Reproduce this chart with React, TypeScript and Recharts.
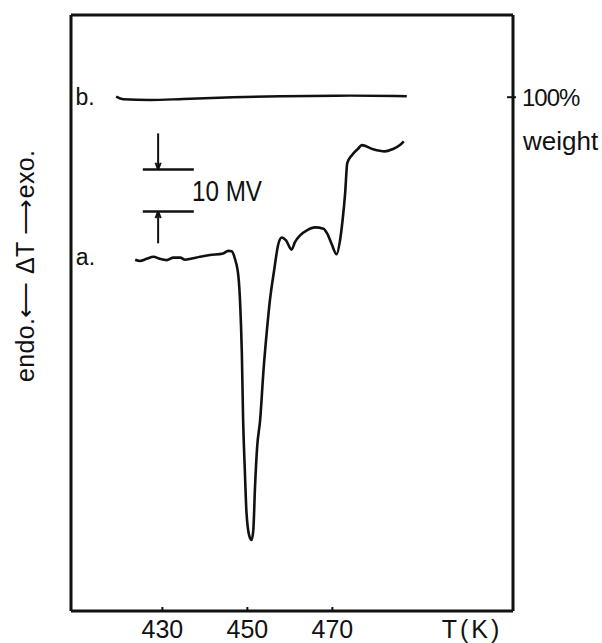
import { Label, Line, LineChart, ReferenceDot, ReferenceLine, XAxis, YAxis } from "recharts";

// curve a: DTA signal (mV scale)
const dtaTemps = [
  423.6, 424.7, 426.3, 427.9, 429.4, 431.0, 432.6, 434.2, 435.3, 436.9, 438.9, 441.2, 444.3, 445.5,
  446.3, 447.1, 447.9, 448.3, 448.7, 449.0, 449.4, 449.8, 450.5, 451.0, 451.4, 451.8, 452.3, 453.0,
  453.8, 454.6, 455.3, 456.3, 457.3, 458.1, 459.1, 460.4, 461.2, 462.4, 464.0, 465.9, 467.9, 468.8,
  469.8, 471.0, 471.8, 472.4, 473.0, 473.5, 474.6, 476.1, 476.9, 479.6, 482.3, 484.1, 485.9, 486.8,
];
const dtaValues = [
  83.7, 83.4, 83.9, 84.4, 83.9, 83.6, 84.2, 84.2, 83.7, 84.0, 84.4, 84.8, 85.2, 85.8,
  85.7, 83.8, 79.6, 73.3, 61.4, 45.5, 33.6, 23.3, 17.7, 16.9, 19.3, 29.6, 39.1, 45.5,
  57.4, 66.9, 74.0, 81.2, 87.5, 89.0, 88.3, 86.1, 87.9, 89.5, 90.7, 91.4, 91.1, 89.9,
  87.5, 85.0, 88.3, 93.1, 99.5, 106.7, 108.6, 110.2, 111.0, 110.0, 109.5, 110.0, 111.0, 111.9,
];

// curve b: weight (%)
const tgTemps = [419.1, 420.8, 427.1, 434.9, 446.6, 458.4, 474.1, 487.5];
const tgValues = [100.1, 99.6, 99.45, 99.65, 100.0, 100.2, 100.3, 100.2];

const tempTicks = [430, 450, 470];
const weightTicks = [100];

const dta = dtaTemps.map((t, i) => ({ t, v: dtaValues[i] }));
const tg = tgTemps.map((t, i) => ({ t, w: tgValues[i] }));

const INK = "#111";
const FONT = "'Liberation Sans', Arial, sans-serif";

// 10 mV scale bar
const barLo = 95.2;
const barHi = 105.2;
const barT0 = 425.4;
const barT1 = 437.4;
const arrowT = 429;

function TempTick({ x, y, payload }: any) {
  return (
    <g>
      <line x1={x} x2={x} y1={y - 4} y2={y} stroke={INK} strokeWidth={2} />
      <text x={x} y={y + 9} dy="0.71em" textAnchor="middle" fontSize={25} fill={INK} fontFamily={FONT}>
        {payload.value}
      </text>
    </g>
  );
}

function WeightTick({ x, y, payload }: any) {
  return (
    <g>
      <line x1={x - 6} x2={x + 3} y1={y} y2={y} stroke={INK} strokeWidth={2} />
      <text x={x + 9} y={y} dominantBaseline="central" fontSize={24} fill={INK} fontFamily={FONT} letterSpacing={-1}>
        {payload.value}%
      </text>
    </g>
  );
}

const textAt =
  (text: string, size: number, extra: any = {}) =>
  ({ viewBox }: any) => {
    const cx = viewBox.x + viewBox.width / 2;
    const cy = viewBox.y + viewBox.height / 2;
    return (
      <text x={cx} y={cy} textAnchor="middle" dominantBaseline="central" fontSize={size} fill={INK} fontFamily={FONT} {...extra}>
        {text}
      </text>
    );
  };

function DeltaTLabel({ viewBox }: any) {
  const cx = viewBox.x + viewBox.width - 46;
  const cy = 266;
  return (
    <text
      transform={`rotate(-90 ${cx} ${cy})`}
      x={cx}
      y={cy}
      textAnchor="middle"
      dominantBaseline="central"
      fontSize={25}
      fill={INK}
      fontFamily={FONT}
      textLength={232}
      lengthAdjust="spacing"
    >
      endo.⟵ ΔT ⟶exo.
    </text>
  );
}

function WeightLabel({ viewBox }: any) {
  return (
    <text x={viewBox.x + 10} y={150} fontSize={26} fill={INK} fontFamily={FONT}>
      weight
    </text>
  );
}

function TempLabel({ viewBox }: any) {
  return (
    <text x={viewBox.x + viewBox.width - 41} y={viewBox.y + 9} dy="0.71em" textAnchor="middle" fontSize={25} fill={INK} fontFamily={FONT} letterSpacing={3}>
      T(K)
    </text>
  );
}

const seg = (t0: number, v0: number, t1: number, v1: number, w = 2) => (
  <ReferenceLine
    key={`${t0}-${v0}-${t1}-${v1}`}
    yAxisId="dta"
    segment={[{ x: t0, y: v0 }, { x: t1, y: v1 }]}
    stroke={INK}
    strokeWidth={w}
  />
);

export default function App() {
  return (
    <div style={{ position: "absolute", left: 0, top: 0, background: "#fff" }}>
      <LineChart width={602} height={643} margin={{ top: 14, right: 88, bottom: 31, left: 70 }}>
        <XAxis
          dataKey="t"
          type="number"
          domain={[408.5, 512.5]}
          ticks={tempTicks}
          allowDataOverflow
          height={1}
          tickSize={0}
          tickMargin={0}
          tickLine={false}
          tick={<TempTick />}
          axisLine={{ stroke: INK, strokeWidth: 3 }}
        >
          <Label content={<TempLabel />} />
        </XAxis>
        <XAxis
          xAxisId="top"
          orientation="top"
          type="number"
          domain={[408.5, 512.5]}
          height={1}
          tick={false}
          tickLine={false}
          axisLine={{ stroke: INK, strokeWidth: 3 }}
        />
        <YAxis
          yAxisId="dta"
          type="number"
          domain={[0, 142]}
          width={1}
          tick={false}
          tickLine={false}
          axisLine={{ stroke: INK, strokeWidth: 3 }}
        >
          <Label content={<DeltaTLabel />} />
        </YAxis>
        <YAxis
          yAxisId="w"
          orientation="right"
          type="number"
          domain={[0, 116]}
          ticks={weightTicks}
          width={1}
          tickSize={0}
          tickMargin={0}
          tickLine={false}
          tick={<WeightTick />}
          axisLine={{ stroke: INK, strokeWidth: 3 }}
        >
          <Label content={<WeightLabel />} />
        </YAxis>

        {seg(barT0, barHi, barT1, barHi, 2.5)}
        {seg(barT0, barLo, barT1, barLo, 2.5)}
        {seg(arrowT, 113.8, arrowT, barHi)}
        {seg(arrowT - 0.6, barHi + 1.6, arrowT, barHi)}
        {seg(arrowT + 0.6, barHi + 1.6, arrowT, barHi)}
        {seg(arrowT, 87.6, arrowT, barLo)}
        {seg(arrowT - 0.6, barLo - 1.6, arrowT, barLo)}
        {seg(arrowT + 0.6, barLo - 1.6, arrowT, barLo)}

        <ReferenceDot yAxisId="dta" x={445.2} y={100} r={1} fill="none" stroke="none" label={<Label content={textAt("10 MV", 29, { textLength: 70, lengthAdjust: "spacingAndGlyphs" })} />} />
        <ReferenceDot yAxisId="dta" x={411.8} y={122.4} r={1} fill="none" stroke="none" label={<Label content={textAt("b.", 23)} />} />
        <ReferenceDot yAxisId="dta" x={411.9} y={84.3} r={1} fill="none" stroke="none" label={<Label content={textAt("a.", 23)} />} />

        <Line data={dta} dataKey="v" yAxisId="dta" type="monotone" stroke={INK} strokeWidth={2.6} dot={false} isAnimationActive={false} />
        <Line data={tg} dataKey="w" yAxisId="w" type="monotone" stroke={INK} strokeWidth={2.4} dot={false} isAnimationActive={false} />
      </LineChart>
    </div>
  );
}
